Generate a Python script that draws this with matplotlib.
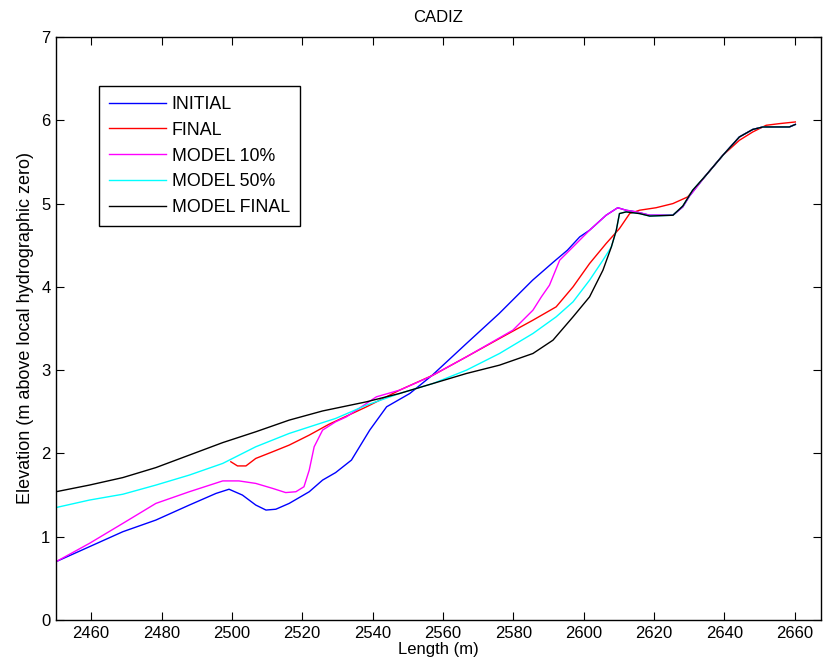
import matplotlib
matplotlib.use("Agg")
import matplotlib.pyplot as plt

plt.rcParams['font.family'] = ['Liberation Sans', 'DejaVu Sans']

# INITIAL profile
x_init = [2450, 2459.5, 2469, 2478.4, 2487.9, 2495.5, 2499.2, 2503, 2506.8, 2509.7,
          2512.5, 2516.3, 2522, 2525.8, 2529.5, 2534, 2539.2, 2544, 2550.6, 2557,
          2566.7, 2576, 2585.5, 2591.2, 2595.4, 2598.9, 2601.7, 2606.4, 2609.7, 2612.1,
          2615, 2618.8, 2625.4, 2628.2, 2630.1, 2634.8, 2639.6, 2644.3, 2648.1, 2651,
          2658.5, 2660.2]
y_init = [0.70, 0.88, 1.06, 1.20, 1.38, 1.52, 1.57, 1.50, 1.38, 1.32,
          1.33, 1.40, 1.54, 1.68, 1.77, 1.92, 2.28, 2.56, 2.72, 2.94,
          3.32, 3.68, 4.08, 4.29, 4.44, 4.60, 4.68, 4.86, 4.95, 4.92,
          4.90, 4.86, 4.86, 4.96, 5.09, 5.34, 5.58, 5.80, 5.89, 5.92,
          5.92, 5.95]

# FINAL profile
x_final = [2499.7, 2501.6, 2504, 2506.8, 2511.6, 2516.3, 2522, 2527.6, 2538.3, 2547.7,
           2557.2, 2566.7, 2576.1, 2585.6, 2592.2, 2597, 2601.7, 2606.4, 2610.2, 2613.1,
           2615.9, 2620.6, 2625.4, 2629.6, 2634.8, 2639.6, 2644.3, 2648.1, 2651.9, 2655.7,
           2660.2]
y_final = [1.90, 1.85, 1.85, 1.94, 2.02, 2.10, 2.22, 2.35, 2.56, 2.76,
           2.94, 3.16, 3.38, 3.60, 3.76, 4.00, 4.28, 4.52, 4.70, 4.88,
           4.92, 4.95, 5.00, 5.08, 5.34, 5.58, 5.76, 5.86, 5.94, 5.96,
           5.98]

# MODEL 10%
x_m10 = [2450, 2459.5, 2469, 2478.4, 2487.9, 2497.4, 2502, 2506.8, 2511.6, 2515.3,
         2518.2, 2520.5, 2522, 2523.4, 2525.8, 2529.5, 2532.6, 2541.1, 2547.7, 2556.3,
         2566.7, 2579.9, 2585.6, 2588, 2590.3, 2593.2, 2597, 2601.7, 2606.4, 2609.7,
         2612.1, 2615, 2618.8, 2625.4, 2628.2, 2630.1, 2634.8, 2639.6, 2644.3, 2648.1,
         2651, 2658.5, 2660.2]
y_m10 = [0.70, 0.92, 1.16, 1.40, 1.54, 1.67, 1.67, 1.64, 1.58, 1.53,
         1.54, 1.60, 1.80, 2.08, 2.28, 2.38, 2.44, 2.68, 2.76, 2.92,
         3.16, 3.48, 3.72, 3.88, 4.02, 4.32, 4.48, 4.68, 4.86, 4.95,
         4.92, 4.90, 4.86, 4.86, 4.96, 5.09, 5.34, 5.58, 5.80, 5.89,
         5.92, 5.92, 5.95]

# MODEL 50%
x_m50 = [2450, 2459.5, 2469, 2478.4, 2487.9, 2497.4, 2506.8, 2516.3, 2525.8, 2529.5,
         2538.3, 2547.7, 2557.2, 2566.7, 2576.1, 2585.6, 2592.2, 2597, 2601.7, 2605.5,
         2607.9, 2609.3, 2610.2, 2612.1, 2615.9, 2618.8, 2625.4, 2628.2, 2631, 2634.8,
         2639.6, 2644.3, 2648.1, 2651, 2658.5, 2660.2]
y_m50 = [1.35, 1.44, 1.51, 1.62, 1.74, 1.88, 2.08, 2.24, 2.37, 2.42,
         2.58, 2.72, 2.84, 3.00, 3.20, 3.44, 3.64, 3.82, 4.08, 4.32,
         4.48, 4.68, 4.88, 4.90, 4.88, 4.85, 4.86, 4.97, 5.16, 5.34,
         5.58, 5.80, 5.89, 5.92, 5.92, 5.95]

# MODEL FINAL
x_mf = [2450, 2459.5, 2469, 2478.4, 2487.9, 2497.4, 2506.8, 2516.3, 2525.8, 2538.3,
        2547.7, 2557.2, 2566.7, 2576.1, 2585.6, 2591.3, 2597, 2601.7, 2605.5, 2607.9,
        2609.3, 2610.2, 2612.1, 2615.9, 2618.8, 2625.4, 2628.2, 2631, 2634.8, 2639.6,
        2644.3, 2648.1, 2651, 2658.5, 2660.2]
y_mf = [1.54, 1.62, 1.71, 1.83, 1.98, 2.13, 2.26, 2.40, 2.51, 2.62,
        2.72, 2.84, 2.96, 3.06, 3.20, 3.36, 3.64, 3.88, 4.20, 4.48,
        4.68, 4.88, 4.90, 4.88, 4.85, 4.86, 4.97, 5.16, 5.34, 5.58,
        5.80, 5.89, 5.92, 5.92, 5.95]

fs = 12
fig = plt.figure(figsize=(8.23, 6.69), dpi=100)
ax = fig.add_axes([56/823, 49/669, 765/823, 583/669])

lw = 1.0
ax.plot(x_init, y_init, color='#0000ff', lw=lw, label='INITIAL')
ax.plot(x_final, y_final, color='#ff0000', lw=lw, label='FINAL')
ax.plot(x_m10, y_m10, color='#ff00ff', lw=lw, label='MODEL 10%')
ax.plot(x_m50, y_m50, color='#00ffff', lw=lw, label='MODEL 50%')
ax.plot(x_mf, y_mf, color='#000000', lw=lw, label='MODEL FINAL')

ax.set_xlim(2450, 2667.5)
ax.set_ylim(0, 7)
ax.set_xticks(range(2460, 2661, 20))
ax.set_yticks(range(0, 8))
ax.tick_params(direction='in', top=True, right=True, length=6, labelsize=fs, pad=4)
for s in ax.spines.values():
    s.set_linewidth(1.0)

ax.set_title('CADIZ', fontsize=fs, pad=11)
ax.set_xlabel('Length (m)', fontsize=fs, labelpad=1)
ax.set_ylabel('Elevation (m above local hydrographic zero)', fontsize=13, labelpad=5)

leg = ax.legend(loc='upper left', bbox_to_anchor=(0.056, 0.916), fontsize=12.8,
                fancybox=False, edgecolor='k', framealpha=1, handlelength=3.2,
                handletextpad=0.35, labelspacing=0.5, borderaxespad=0,
                borderpad=0.55)
leg.get_frame().set_linewidth(1.0)

fig.savefig('out.png', dpi=100)
